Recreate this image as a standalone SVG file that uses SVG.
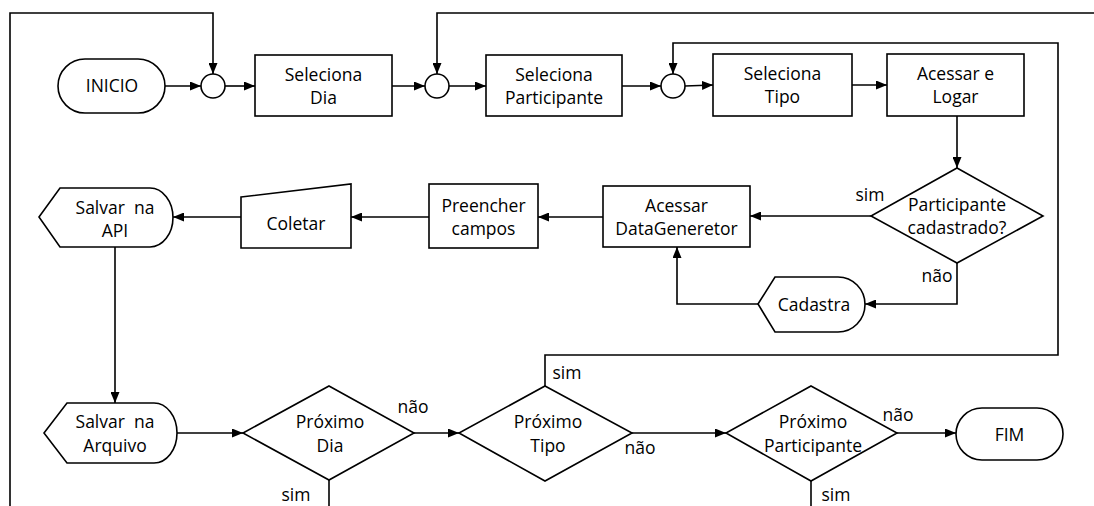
<svg xmlns="http://www.w3.org/2000/svg" width="1094" height="506" viewBox="0 0 1094 506">
<style>
.s{fill:#fff;stroke:#000;stroke-width:1.6}
.c{fill:none;stroke:#000;stroke-width:1.6}
.a{marker-end:url(#ah)}
text{font-family:"Open Sans","Liberation Sans",sans-serif;font-size:17.5px;fill:#000;text-anchor:middle}
</style>
<defs>
<marker id="ah" markerUnits="userSpaceOnUse" markerWidth="11" markerHeight="9" refX="11" refY="4.5" orient="auto">
<path d="M0,0 L11,4.5 L0,9 Z" fill="#000"/>
</marker>
</defs>
<rect width="1094" height="506" fill="#fff"/>
<g id="connectors">
<path class="c a" d="M10,506 V13 H213 V74"/>
<path class="c a" d="M1094,13 H437 V74"/>
<path class="c a" d="M545,386 V355 H1058 V43 H673 V74"/>
<path class="c a" d="M165,86 H201"/>
<path class="c a" d="M225,86 H255"/>
<path class="c a" d="M392,86 H425"/>
<path class="c a" d="M449,86 H486"/>
<path class="c a" d="M622,86 H661"/>
<path class="c a" d="M685,86 L713,85"/>
<path class="c a" d="M852,85 H887"/>
<path class="c a" d="M957,116 V168"/>
<path class="c a" d="M871,216 H750"/>
<path class="c a" d="M957,263 V304 H865"/>
<path class="c a" d="M758,304 H677 V247"/>
<path class="c a" d="M603,217 H538"/>
<path class="c a" d="M429,217 H351"/>
<path class="c a" d="M241,217 H173"/>
<path class="c a" d="M115,247 V403"/>
<path class="c a" d="M177,433 H243"/>
<path class="c a" d="M414,433 H459"/>
<path class="c a" d="M632,433 H726"/>
<path class="c a" d="M897,433 H956"/>
<path class="c" d="M329,480 V506"/>
<path class="c" d="M811,481 V506"/>
<text x="870" y="201">sim</text>
<text x="937" y="282">não</text>
<text x="413" y="413">não</text>
<text x="567" y="379">sim</text>
<text x="640" y="454">não</text>
<text x="296" y="501">sim</text>
<text x="898" y="421">não</text>
<text x="836" y="501">sim</text>
</g>
<g id="inicio">
<rect class="s" x="58" y="59" width="107" height="54" rx="27"/>
<text x="112" y="92">INICIO</text>
</g>
<g id="junction1"><circle class="s" cx="213" cy="86" r="12"/></g>
<g id="seleciona-dia">
<rect class="s" x="255" y="55" width="137" height="61"/>
<text x="323.5" y="81">Seleciona</text>
<text x="323.5" y="104">Dia</text>
</g>
<g id="junction2"><circle class="s" cx="437" cy="86" r="12"/></g>
<g id="seleciona-participante">
<rect class="s" x="486" y="55" width="136" height="61"/>
<text x="554" y="81">Seleciona</text>
<text x="554" y="104">Participante</text>
</g>
<g id="junction3"><circle class="s" cx="673" cy="86" r="12"/></g>
<g id="seleciona-tipo">
<rect class="s" x="713" y="54" width="139" height="62"/>
<text x="782.5" y="80">Seleciona</text>
<text x="782.5" y="103">Tipo</text>
</g>
<g id="acessar-logar">
<rect class="s" x="887" y="54" width="137" height="62"/>
<text x="955.5" y="80">Acessar e</text>
<text x="955.5" y="103">Logar</text>
</g>
<g id="participante-cadastrado">
<polygon class="s" points="957,168 1043,216 957,263 871,216"/>
<text x="957" y="211">Participante</text>
<text x="957" y="234">cadastrado?</text>
</g>
<g id="acessar-datagen">
<rect class="s" x="603" y="186" width="147" height="61"/>
<text x="676.5" y="212">Acessar</text>
<text x="676.5" y="235">DataGeneretor</text>
</g>
<g id="cadastra">
<path class="s" d="M758,304 L775,277 H838 A27,27.5 0 0 1 838,332 H775 Z"/>
<text x="814" y="311">Cadastra</text>
</g>
<g id="preencher">
<rect class="s" x="429" y="184" width="109" height="64"/>
<text x="483.5" y="212">Preencher</text>
<text x="483.5" y="235">campos</text>
</g>
<g id="coletar">
<polygon class="s" points="241,197 351,184 351,248 241,248"/>
<text x="296" y="230">Coletar</text>
</g>
<g id="salvar-api">
<path class="s" d="M39,217 L60,188 H150 A23,29.5 0 0 1 150,247 H60 Z"/>
<text x="115" y="214" xml:space="preserve">Salvar  na</text>
<text x="115" y="237">API</text>
</g>
<g id="salvar-arquivo">
<path class="s" d="M44,433 L67,403 H154 A23,30 0 0 1 154,463 H67 Z"/>
<text x="115" y="428" xml:space="preserve">Salvar  na</text>
<text x="115" y="452">Arquivo</text>
</g>
<g id="proximo-dia">
<polygon class="s" points="329,386 414,433 329,480 243,433"/>
<text x="330" y="428">Próximo</text>
<text x="330" y="452">Dia</text>
</g>
<g id="proximo-tipo">
<polygon class="s" points="545,386 632,433 545,481 459,433"/>
<text x="548" y="428">Próximo</text>
<text x="548" y="452">Tipo</text>
</g>
<g id="proximo-participante">
<polygon class="s" points="811,386 897,433 811,481 726,433"/>
<text x="813" y="428">Próximo</text>
<text x="813" y="452">Participante</text>
</g>
<g id="fim">
<rect class="s" x="956" y="408" width="107" height="52" rx="26"/>
<text x="1009.5" y="441">FIM</text>
</g>
</svg>
